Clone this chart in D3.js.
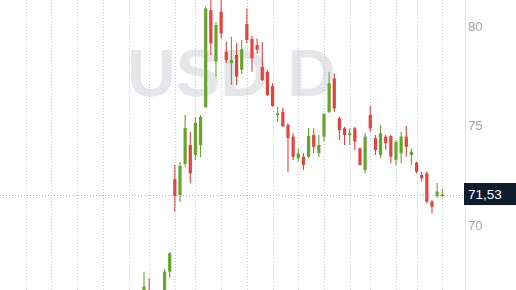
<!DOCTYPE html>
<html><head><meta charset="utf-8">
<script src="https://cdn.jsdelivr.net/npm/d3@7"></script>
<style>html,body{margin:0;padding:0;background:#fff;overflow:hidden}</style>
</head><body>
<svg id="chart" width="516" height="290"></svg>
<script>
// Day index of the first candle; candles follow on consecutive trading days
const firstDay = 23;
const openVals  = [65.90,66.70,66.20,66.50,66.60,67.65,72.30,71.51,73.07,74.02,73.52,74.02,75.91,80.80,78.21,80.72,78.71,78.13,78.54,77.81,80.10,79.35,79.05,77.95,77.70,76.98,75.53,75.69,75.03,74.44,73.35,73.43,73.43,74.52,73.60,74.44,75.69,77.37,75.36,74.86,74.52,74.86,73.85,72.76,75.53,74.36,73.52,74.44,74.47,73.27,73.60,74.44,73.52,73.13,72.51,72.60,71.17,71.46,71.45];
const highVals  = [67.65,67.32,66.65,66.70,67.79,68.63,73.02,73.17,75.53,74.69,75.43,75.53,81.00,81.60,80.20,81.50,79.21,79.46,79.13,79.30,80.89,79.51,79.38,79.21,77.79,77.12,75.94,75.91,75.11,74.61,73.85,73.60,74.86,74.86,74.52,75.61,77.70,77.62,75.44,74.94,74.86,74.94,73.89,74.61,75.98,74.52,75.03,74.52,74.52,74.27,74.69,74.97,73.85,73.18,72.68,72.68,71.26,72.11,71.81];
const lowVals   = [65.70,65.90,65.95,66.10,66.40,67.35,70.67,71.16,72.93,72.10,73.27,73.42,75.91,78.54,77.45,79.38,78.13,77.04,77.04,77.59,79.13,77.70,78.61,77.24,76.48,75.94,75.19,74.94,72.66,73.27,73.18,72.76,73.35,73.60,73.43,74.19,75.61,75.69,74.27,74.02,74.02,73.77,72.99,72.60,74.69,73.52,73.35,73.77,73.10,73.02,73.10,73.43,73.02,72.60,72.18,71.09,70.59,71.36,71.40];
const closeVals = [66.90,66.20,66.50,66.30,67.65,68.58,71.46,72.96,74.87,72.60,75.13,75.43,80.89,79.13,80.05,79.63,78.29,78.29,77.46,78.84,79.30,78.38,78.81,77.29,76.53,75.98,75.61,74.96,74.36,73.43,73.60,73.02,74.47,73.93,74.02,75.58,77.12,75.86,74.77,74.52,74.61,74.19,73.02,74.44,74.86,73.77,74.61,74.11,73.43,74.17,74.44,73.93,73.68,72.68,72.35,71.17,70.92,71.68,71.53];
// Day indices that start a week (vertical grid lines)
const weekStarts = [0,5,10,15,20,24,29,33,38,43,48,53,58,63,67,72,76,81];
const yTicks = [70,75,80];
const lastPrice = 71.53;
const watermark = "USD D";

const W = 516, H = 290, plotRight = 465;
const svg = d3.select("#chart");
const x = d3.scaleLinear().domain([-5, 85.42]).range([0, plotRight]);
const y = d3.scaleLinear().domain([66.73, 81.31]).range([H, 0]);
const fmt = v => d3.format(".2f")(v).replace(".", ",");

const candles = openVals.map((o, i) => ({
  day: firstDay + i, o, h: highVals[i], l: lowVals[i], c: closeVals[i]
}));

svg.append("defs").append("clipPath").attr("id","plot")
  .append("rect").attr("x",0).attr("y",0).attr("width",plotRight).attr("height",H);

// watermark
svg.append("text")
  .attr("x", plotRight / 2 - 1).attr("y", 96)
  .attr("text-anchor","middle")
  .attr("font-family","'Liberation Sans', Arial, sans-serif")
  .attr("font-weight","bold").attr("font-size",67)
  .attr("fill","#e5e6e9")
  .text(watermark);

// vertical grid
svg.append("g").selectAll("line").data(weekStarts).join("line")
  .attr("x1", d => Math.round(x(d)) + 0.5).attr("x2", d => Math.round(x(d)) + 0.5)
  .attr("y1", 0).attr("y2", H)
  .attr("stroke","#c8cbd0").attr("stroke-width",1).attr("stroke-dasharray","1,2");

// last price line
svg.append("line")
  .attr("x1",0).attr("x2",plotRight)
  .attr("y1", Math.round(y(lastPrice)) + 0.5).attr("y2", Math.round(y(lastPrice)) + 0.5)
  .attr("stroke","#b8bcc2").attr("stroke-width",1).attr("stroke-dasharray","1,2");

// candles
const up = "#65a62a", down = "#e5423c";
const g = svg.append("g").attr("clip-path","url(#plot)");
const bodyW = 3.2;
g.selectAll("line.wick").data(candles).join("line").attr("class","wick")
  .attr("x1", d => x(d.day)).attr("x2", d => x(d.day))
  .attr("y1", d => y(d.h)).attr("y2", d => y(d.l))
  .attr("stroke", d => d.c >= d.o ? up : down).attr("stroke-width",1.1);
g.selectAll("rect.body").data(candles).join("rect").attr("class","body")
  .attr("x", d => x(d.day) - bodyW/2).attr("width", bodyW)
  .attr("y", d => y(Math.max(d.o, d.c)))
  .attr("height", d => Math.max(1.2, Math.abs(y(d.o) - y(d.c))))
  .attr("fill", d => d.c >= d.o ? up : down);

// right axis
svg.append("line").attr("x1",plotRight+0.5).attr("x2",plotRight+0.5)
  .attr("y1",0).attr("y2",H).attr("stroke","#e3e5e9").attr("stroke-width",1);
const axis = d3.axisRight(y).tickValues(yTicks).tickSize(0).tickPadding(0).tickFormat(d3.format("d"));
const ag = svg.append("g").attr("transform",`translate(${plotRight+3},0)`).call(axis);
ag.select(".domain").remove();
ag.selectAll("text").attr("font-family","'Liberation Sans', Arial, sans-serif")
  .attr("font-size",13).attr("fill","#a4a7ae").attr("x",0);

// last price label
const ly = y(lastPrice);
svg.append("rect").attr("x",plotRight-1).attr("y",ly-11.5).attr("width",W-plotRight+1).attr("height",22)
  .attr("fill","#0f1c2d");
svg.append("text").attr("x",plotRight+3).attr("y",ly).attr("dy","0.35em")
  .attr("font-family","'Liberation Sans', Arial, sans-serif").attr("font-size",13.5)
  .attr("fill","#ffffff").text(fmt(lastPrice));
</script>
</body></html>
